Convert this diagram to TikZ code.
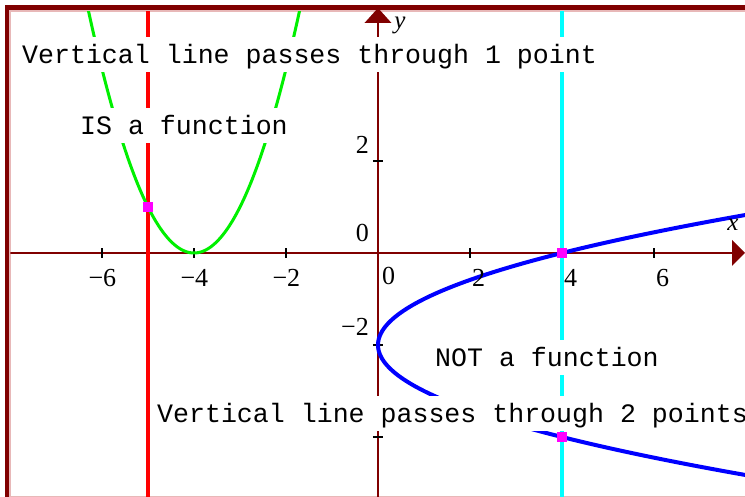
\documentclass[tikz,border=0pt]{standalone}
\usepackage{fontspec}
\setmainfont{Liberation Serif}
\newfontfamily\monofont{Liberation Mono}
\definecolor{axred}{HTML}{800000}
\definecolor{framepink}{HTML}{E8B8B8}
\definecolor{lime}{HTML}{00F000}
\definecolor{dotpink}{HTML}{FF00FF}
\definecolor{cyanline}{HTML}{00FFFF}
\definecolor{pureblue}{HTML}{0000FF}
\definecolor{purered}{HTML}{FF0000}
\tikzset{
  msg/.style={fill=white, font=\monofont\fontsize{26.6}{30}\selectfont, inner xsep=2pt, inner ysep=0pt, text height=27pt, text depth=8pt, anchor=base west},
  xlab/.style={font=\fontsize{26}{28}\selectfont, inner sep=0pt, anchor=north west},
  ylab/.style={font=\fontsize{26}{28}\selectfont, inner sep=0pt, anchor=south east},
  tickmark/.style={line width=1.4pt, black},
  axisline/.style={line width=1.5pt, axred},
  ptdot/.style={fill=dotpink, draw=none, minimum size=10pt, inner sep=0pt, rectangle}
}
\begin{document}
\begin{tikzpicture}[x=46pt,y=46pt]
\useasboundingbox[fill=white] (-378pt,-244pt) rectangle (367pt,253pt);
% frame
\draw[framepink, line width=1pt] (-368pt,-243.5pt) -- (367pt,-243.5pt);
\draw[framepink, line width=1.2pt] (-368pt,-244pt) -- (-368pt,242pt) -- (367pt,242pt);
\fill[axred] (-373pt,-244pt) rectangle (-369pt,248pt);
\fill[axred] (-373pt,243pt) rectangle (367pt,248pt);
\begin{scope}
\clip (-367.5pt,-244pt) rectangle (367pt,241.5pt);
% axes
\draw[axisline] (-368pt,0) -- (356pt,0);
\draw[axisline] (0,-244pt) -- (0,232pt);
% ticks
\foreach \t in {-6,-4,-2,2,4,6} \draw[tickmark] (\t,-5pt) -- (\t,5pt);
\foreach \t in {-4,-2,2,4} \draw[tickmark] (-5pt,\t) -- (5pt,\t);
% vertical lines
\draw[purered, line width=4.5pt] (-5,-244pt) -- (-5,242pt);
\draw[cyanline, line width=4pt] (4,-244pt) -- (4,242pt);
% curves
\draw[lime, line width=3pt] plot[domain=-6.45:-1.55, samples=120, smooth] (\x,{(\x+4)^2});
\draw[pureblue, line width=4pt] plot[domain=-4.95:0.95, samples=140, smooth] ({(\x+2)^2},\x);
\end{scope}
% arrowheads
\fill[axred] (0,245pt) -- (-13.5pt,230pt) -- (13.5pt,230pt) -- cycle;
\fill[axred] (367pt,0) -- (354pt,13pt) -- (354pt,-13pt) -- cycle;
\node[font=\itshape\fontsize{25}{27}\selectfont, inner sep=0pt] (ylabel) at (22pt,228pt) {y};
\node[font=\itshape\fontsize{25}{27}\selectfont, inner sep=0pt] (xlabel) at (355pt,28pt) {x};
% tick labels
\node[xlab] (lm6) at ([xshift=1pt]-6,-16pt) {\llap{−}6};
\node[xlab] (lm4) at ([xshift=1pt]-4,-16pt) {\llap{−}4};
\node[xlab] (lm2) at ([xshift=1pt]-2,-16pt) {\llap{−}2};
\node[xlab] (l0) at (4pt,-14pt) {0};
\node[xlab] (l2) at ([xshift=2pt]2,-16pt) {2};
\node[xlab] (l4) at ([xshift=2pt]4,-16pt) {4};
\node[xlab] (l6) at ([xshift=2pt]6,-16pt) {6};
\node[ylab] (ly2) at ([yshift=7pt]-9pt,2) {2};
\node[ylab] (ly0) at (-9pt,11pt) {0};
\node[ylab] (lym2) at ([yshift=9pt]-9pt,-2) {−2};
% messages
\node[msg] (t1) at (-358pt,189pt) {Vertical line passes through 1 point};
\node[msg] (t2) at (-300pt,118pt) {IS a function};
\node[msg] (t3) at (55pt,-114pt) {NOT a function};
\node[msg] (t4) at (-223pt,-170pt) {Vertical line passes through 2 points};
% intersection points
\node[ptdot] (p1) at (-5,1) {};
\node[ptdot] (p2) at (4,0) {};
\node[ptdot] (p3) at (4,-4) {};
\end{tikzpicture}
\end{document}
